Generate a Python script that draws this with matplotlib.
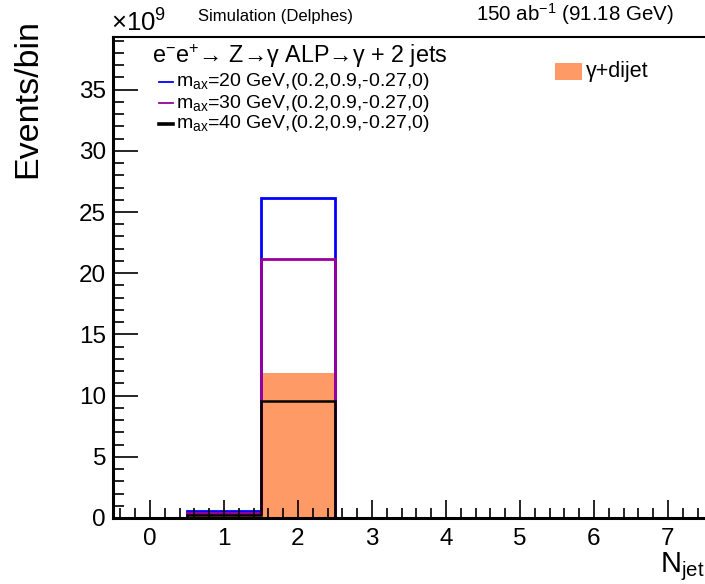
import numpy as np
import matplotlib
matplotlib.use("Agg")
import matplotlib.pyplot as plt
from matplotlib.lines import Line2D
from matplotlib.patches import Rectangle
from matplotlib.ticker import MultipleLocator

plt.rcParams['font.family'] = ['Liberation Sans', 'DejaVu Sans']
plt.rcParams['mathtext.fontset'] = 'custom'
plt.rcParams['mathtext.rm'] = 'Liberation Sans'
plt.rcParams['mathtext.it'] = 'Liberation Sans'

# Data (units of 1e9 events per bin), bins N_jet = 0..7
njet = [0, 1, 2, 3, 4, 5, 6, 7]
bkg_dijet = [0.0, 0.30, 11.85, 0.0, 0.0, 0.0, 0.0, 0.0]
sig_m20 = [0.0, 0.55, 26.15, 0.0, 0.0, 0.0, 0.0, 0.0]
sig_m30 = [0.0, 0.40, 21.15, 0.0, 0.0, 0.0, 0.0, 0.0]
sig_m40 = [0.0, 0.22, 9.55, 0.0, 0.0, 0.0, 0.0, 0.0]
labels = ["m$_{ax}$=20 GeV,(0.2,0.9,-0.27,0)",
          "m$_{ax}$=30 GeV,(0.2,0.9,-0.27,0)",
          "m$_{ax}$=40 GeV,(0.2,0.9,-0.27,0)"]
bkg_label = "\u03b3+dijet"
colors = ['#0000ff', '#990099', '#000000']
bkg_color = '#fe9a66'

W, H = 705, 584
fig = plt.figure(figsize=(W / 100, H / 100), dpi=100)
ax = fig.add_axes([113 / W, 1 - 518 / H, 1.0 - 113 / W, (518 - 37) / H])

edges = np.arange(len(njet) + 1) - 0.5
ax.stairs(bkg_dijet, edges, fill=True, color=bkg_color, lw=0)
widths = [2.0, 2.0, 1.8]
for vals, c, lw in zip([sig_m20, sig_m30, sig_m40], colors, widths):
    ax.stairs(vals, edges, color=c, lw=lw, baseline=0)

ax.set_xlim(-0.5, 7.5)
ax.set_ylim(0, 39.3)
ax.xaxis.set_major_locator(MultipleLocator(1))
ax.xaxis.set_minor_locator(MultipleLocator(0.2))
ax.yaxis.set_major_locator(MultipleLocator(5))
ax.yaxis.set_minor_locator(MultipleLocator(1))
ax.tick_params(which='both', direction='in', top=False, right=False,
               labelsize=17.5, width=1.2)
ax.tick_params(axis='y', which='major', length=18, pad=5)
ax.tick_params(axis='y', which='minor', length=8)
ax.tick_params(axis='x', which='major', length=13, pad=7)
ax.tick_params(axis='x', which='minor', length=7)
for s in ['left', 'bottom']:
    ax.spines[s].set_linewidth(2.2)
ax.spines['top'].set_linewidth(1.5)
ax.spines['right'].set_visible(False)

# Legend (manual placement)
entry_y = [82, 103, 124]
handle_lw = [1.3, 1.3, 2.6]
for yy, c, lw, lab in zip(entry_y, colors, handle_lw, labels):
    fig.add_artist(Line2D([159 / W, 173 / W], [1 - yy / H, 1 - yy / H], color=c, lw=lw,
                          transform=fig.transFigure))
    fig.text(176 / W, 1 - yy / H, lab, fontsize=14, ha='left', va='center')

fig.add_artist(Rectangle((555 / W, 1 - 80 / H), 27 / W, 17 / H, facecolor=bkg_color,
                         edgecolor='none', transform=fig.transFigure))
fig.text(586 / W, 1 - 71 / H, bkg_label, fontsize=15.5, ha='left', va='center')

fig.text(152 / W, 1 - 63 / H, "e$^{-}$e$^{+}$\u2192 Z\u2192\u03b3 ALP\u2192\u03b3 + 2 jets",
         fontsize=16.8, ha='left', va='baseline')

# Header texts
fig.text(198 / W, 1 - 21 / H, "Simulation (Delphes)", fontsize=12, ha='left', va='baseline')
fig.text(476 / W, 1 - 21 / H, "150 ab$^{-1}$ (91.18 GeV)", fontsize=14.8, ha='left', va='baseline')
fig.text(111 / W, 1 - 32 / H, "\u00d710$^{9}$", fontsize=18.5, ha='left', va='baseline')

# Axis titles
fig.text(28 / W, 1 - 19 / H, "Events/bin", fontsize=24.5, rotation=90, ha='center', va='top')
fig.text(705 / W, 1 - 572 / H, "N$_{jet}$", fontsize=21, ha='right', va='baseline')

fig.savefig("out.png", dpi=100)
